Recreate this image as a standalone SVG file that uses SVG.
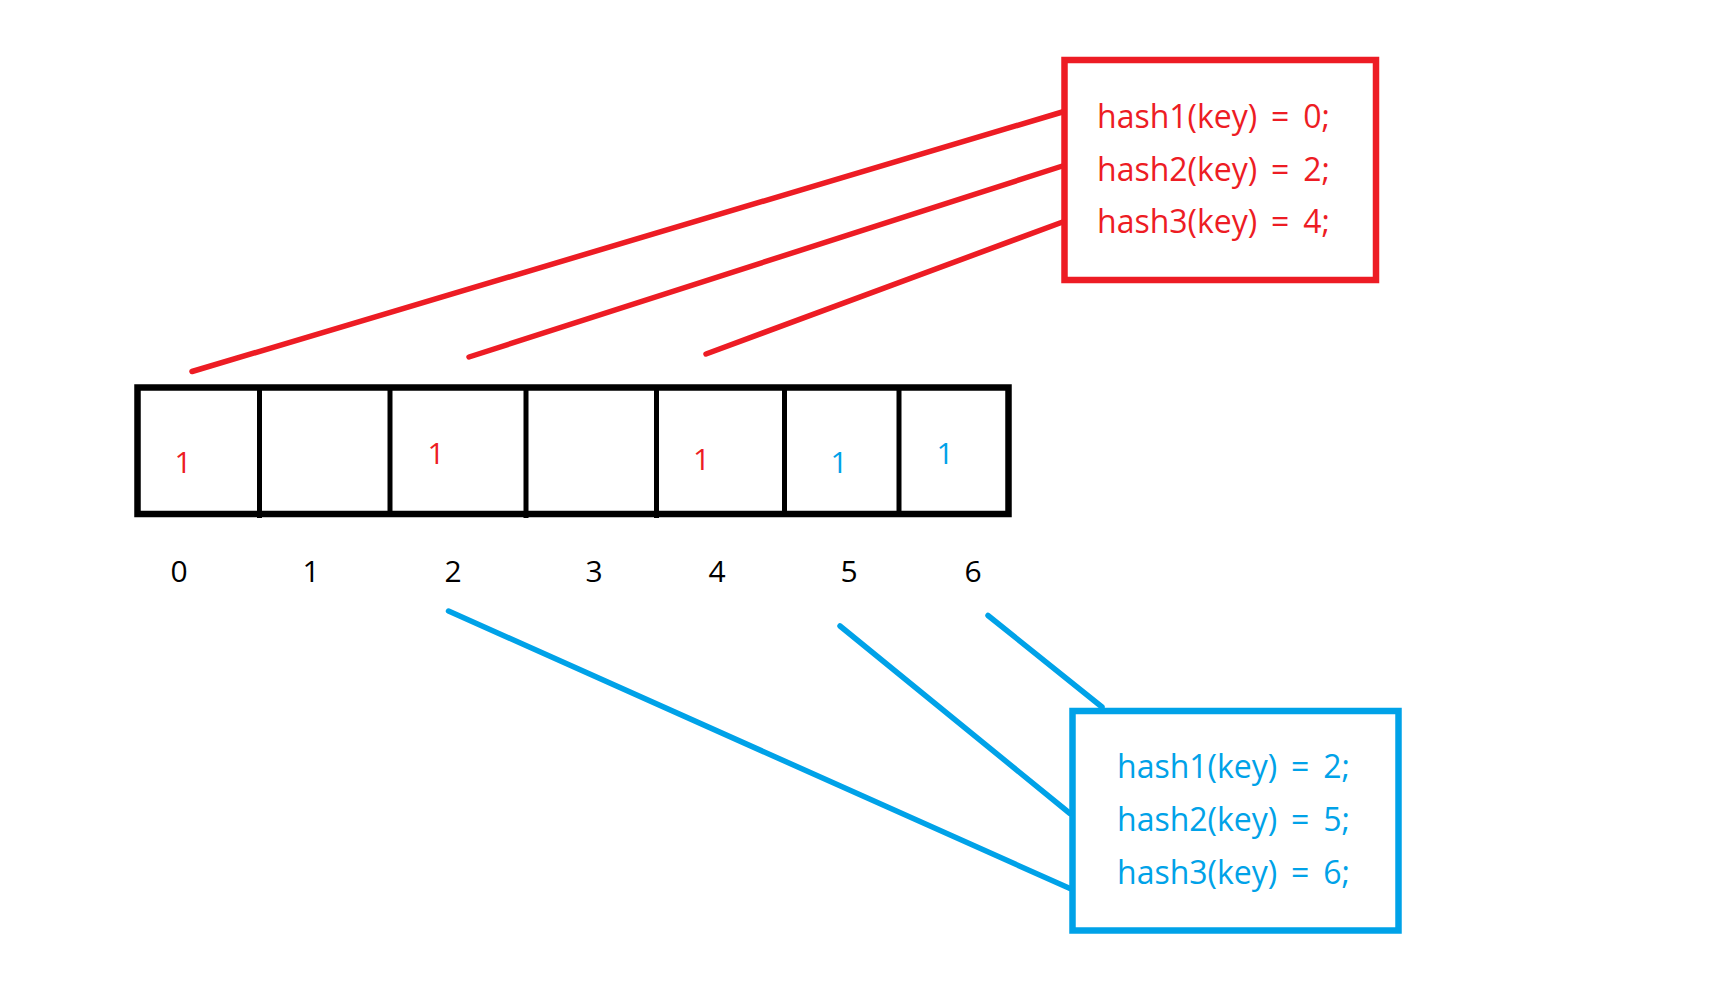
<svg xmlns="http://www.w3.org/2000/svg" width="1727" height="992" viewBox="0 0 1727 992">
<style>
.bg{fill:#ffffff}
.red{stroke:#ED1C24}
.blue{stroke:#00A2E8}
.line{fill:none;stroke-width:5.5;stroke-linecap:round}
.box{fill:none;stroke-width:6.5}
.grid{fill:none;stroke:#000000;stroke-width:6.5}
.div{stroke:#000000;stroke-width:5}
.t{font-family:"Open Sans","Noto Sans","Liberation Sans",sans-serif;font-size:32px;word-spacing:5.5px}
.d{font-family:"Open Sans","Noto Sans","Liberation Sans",sans-serif;font-size:30px;text-anchor:middle}
.tr{fill:#ED1C24}
.tb{fill:#00A2E8}
.tk{fill:#000000}
</style>
<rect class="bg" x="0" y="0" width="1727" height="992"/>
<g id="connectors">
<line class="line red" x1="192" y1="371.5" x2="1064" y2="111.5"/>
<line class="line red" x1="469" y1="357" x2="1064" y2="165.5"/>
<line class="line red" x1="706" y1="354" x2="1064" y2="221.5"/>
<line class="line blue" x1="448.5" y1="611" x2="1070" y2="888.5"/>
<line class="line blue" x1="840" y1="626" x2="1070" y2="813.5"/>
<line class="line blue" x1="988" y1="615.5" x2="1102" y2="707"/>
</g>
<g id="array">
<rect class="grid" x="137.5" y="387.5" width="871" height="126.5"/>
<line class="div" x1="259.5" y1="387.5" x2="259.5" y2="518"/>
<line class="div" x1="390" y1="387.5" x2="390" y2="514"/>
<line class="div" x1="526" y1="387.5" x2="526" y2="518"/>
<line class="div" x1="656.5" y1="387.5" x2="656.5" y2="518"/>
<line class="div" x1="784.5" y1="387.5" x2="784.5" y2="514"/>
<line class="div" x1="899" y1="387.5" x2="899" y2="514"/>
<text class="d tr" x="183" y="472.7">1</text>
<text class="d tr" x="436" y="464">1</text>
<text class="d tr" x="701.5" y="470">1</text>
<text class="d tb" x="839" y="472.7">1</text>
<text class="d tb" x="945" y="464">1</text>
</g>
<g id="indices">
<text class="d tk" x="179" y="581.7">0</text>
<text class="d tk" x="311" y="581.7">1</text>
<text class="d tk" x="453" y="581.7">2</text>
<text class="d tk" x="594" y="581.7">3</text>
<text class="d tk" x="717" y="581.7">4</text>
<text class="d tk" x="849" y="581.7">5</text>
<text class="d tk" x="973" y="581.7">6</text>
</g>
<g id="red-box">
<rect class="box red" x="1064.5" y="60" width="311.5" height="220"/>
<text class="t tr" x="1097" y="128.3">hash1(key) = 0;</text>
<text class="t tr" x="1097" y="180.7">hash2(key) = 2;</text>
<text class="t tr" x="1097" y="233.3">hash3(key) = 4;</text>
</g>
<g id="blue-box">
<rect class="box blue" x="1072.5" y="711" width="326" height="219.5"/>
<text class="t tb" x="1117" y="778">hash1(key) = 2;</text>
<text class="t tb" x="1117" y="831">hash2(key) = 5;</text>
<text class="t tb" x="1117" y="883.5">hash3(key) = 6;</text>
</g>
</svg>
